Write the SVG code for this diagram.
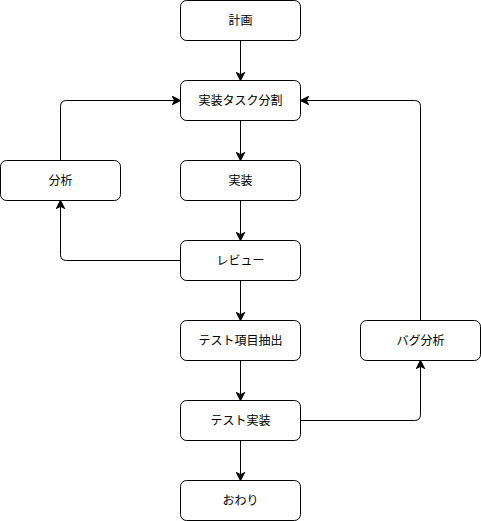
<svg xmlns="http://www.w3.org/2000/svg" width="481" height="521" viewBox="0 0 481 521">
<style>
.n rect{fill:#fff;stroke:#000;stroke-width:1}
.n text{font-family:"Liberation Sans","Noto Sans CJK JP",sans-serif;font-size:12px;fill:#000;text-anchor:middle;dominant-baseline:central}
.e path{fill:none;stroke:#000;stroke-width:1;marker-end:url(#arr)}
</style>
<defs>
<marker id="arr" markerUnits="userSpaceOnUse" markerWidth="10" markerHeight="10" viewBox="-8 -4 9 8" refX="0" refY="0" orient="auto">
<path d="M0,0 L-7,-3.5 L-5.25,0 L-7,3.5 Z" fill="#000" stroke="#000" stroke-width="1"/>
</marker>
</defs>
<rect width="481" height="521" fill="#fff"/>
<g class="e" id="edges">
<path d="M240.5,40.5 V80.5"/>
<path d="M240.5,120.5 V160.5"/>
<path d="M240.5,200.5 V240.5"/>
<path d="M180.5,260.5 H66.5 Q60.5,260.5 60.5,254.5 V200.5"/>
<path d="M60.5,160.5 V106.5 Q60.5,100.5 66.5,100.5 H180.5"/>
<path d="M240.5,280.5 V320.5"/>
<path d="M240.5,360.5 V400.5"/>
<path d="M240.5,440.5 V480.5"/>
<path d="M300.5,420.5 H414.5 Q420.5,420.5 420.5,414.5 V360.5"/>
<path d="M420.5,320.5 V106.5 Q420.5,100.5 414.5,100.5 H300.5"/>
</g>
<g class="n" id="keikaku"><rect x="180.5" y="0.5" width="120" height="40" rx="6"/><text x="240.5" y="20.5">計画</text></g>
<g class="n" id="bunkatsu"><rect x="180.5" y="80.5" width="120" height="40" rx="6"/><text x="240.5" y="100.5">実装タスク分割</text></g>
<g class="n" id="bunseki"><rect x="0.5" y="160.5" width="120" height="40" rx="6"/><text x="60.5" y="180.5">分析</text></g>
<g class="n" id="jissou"><rect x="180.5" y="160.5" width="120" height="40" rx="6"/><text x="240.5" y="180.5">実装</text></g>
<g class="n" id="review"><rect x="180.5" y="240.5" width="120" height="40" rx="6"/><text x="240.5" y="260.5">レビュー</text></g>
<g class="n" id="chushutsu"><rect x="180.5" y="320.5" width="120" height="40" rx="6"/><text x="240.5" y="340.5">テスト項目抽出</text></g>
<g class="n" id="bugbunseki"><rect x="360.5" y="320.5" width="120" height="40" rx="6"/><text x="420.5" y="340.5">バグ分析</text></g>
<g class="n" id="testjissou"><rect x="180.5" y="400.5" width="120" height="40" rx="6"/><text x="240.5" y="420.5">テスト実装</text></g>
<g class="n" id="owari"><rect x="180.5" y="480.5" width="120" height="40" rx="6"/><text x="240.5" y="500.5">おわり</text></g>
</svg>
